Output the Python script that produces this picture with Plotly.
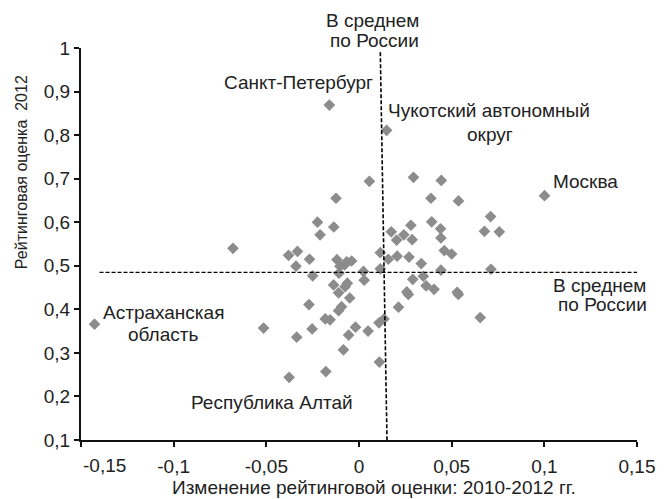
import plotly.graph_objects as go

# Change in rating 2010-2012 (x) and rating 2012 (y)
x_change = [
    -0.1427, -0.0680, -0.0515, -0.0380, -0.0332, -0.0340, -0.0336, -0.0377,
    -0.0267, -0.0250, -0.0270, -0.0253, -0.0224, -0.0210, -0.0160, -0.0124,
    -0.0136, -0.0119, -0.0103, -0.0108, -0.0137, -0.0110, -0.0182, -0.0156,
    -0.0110, -0.0094, -0.0084, -0.0066, -0.0040, -0.0078, -0.0063, -0.0075,
    -0.0050, -0.0056, -0.0019, -0.0179, 0.0024, 0.0028, 0.0056, 0.0049,
    0.0115, 0.0115, 0.0108, 0.0135, 0.0110, 0.0149, 0.0158, 0.0174,
    0.0203, 0.0206, 0.0213, 0.0242, 0.0280, 0.0287, 0.0270, 0.0294,
    0.0290, 0.0258, 0.0266, 0.0336, 0.0347, 0.0362, 0.0388, 0.0392,
    0.0405, 0.0444, 0.0440, 0.0442, 0.0460, 0.0500, 0.0442, 0.0537,
    0.0536, 0.0530, 0.0654, 0.0677, 0.0710, 0.0757, 0.0712, 0.1001,
]
y_rating = [
    0.366, 0.540, 0.357, 0.524, 0.533, 0.499, 0.336, 0.244,
    0.515, 0.477, 0.411, 0.355, 0.600, 0.571, 0.869, 0.655,
    0.589, 0.514, 0.499, 0.483, 0.456, 0.438, 0.378, 0.376,
    0.397, 0.406, 0.307, 0.509, 0.511, 0.502, 0.460, 0.452,
    0.426, 0.341, 0.359, 0.257, 0.487, 0.467, 0.694, 0.350,
    0.530, 0.493, 0.369, 0.378, 0.279, 0.811, 0.515, 0.578,
    0.559, 0.522, 0.405, 0.571, 0.593, 0.560, 0.520, 0.703,
    0.469, 0.440, 0.434, 0.505, 0.476, 0.454, 0.655, 0.601,
    0.446, 0.696, 0.585, 0.564, 0.535, 0.527, 0.490, 0.649,
    0.434, 0.439, 0.381, 0.579, 0.613, 0.578, 0.492, 0.661,
]

# Russian averages (reference lines)
avg_x_line = [0.0115, 0.0151]
avg_x_line_y = [0.99, 0.1]
avg_y_line_x = [-0.14, 0.15]
avg_y = [0.4847, 0.4847]

x_ticks = [-0.15, -0.1, -0.05, 0, 0.05, 0.1, 0.15]
x_ticktext = ["", "-0,1", "-0,05", "0", "0,05", "0,1", "0,15"]
y_ticks = [0.1, 0.2, 0.3, 0.4, 0.5, 0.6, 0.7, 0.8, 0.9, 1.0]
y_ticktext = ["0,1", "0,2", "0,3", "0,4", "0,5", "0,6", "0,7", "0,8", "0,9", "1"]

# label lines placed in data coordinates (inside the plot)
data_labels = [
    ("Санкт-Петербург", -0.0328, 0.921),
    ("Чукотский автономный", 0.0700, 0.857),
    ("округ", 0.0706, 0.802),
    ("Москва", 0.1221, 0.694),
    ("Астраханская", -0.1056, 0.3932),
    ("область", -0.1056, 0.3432),
    ("Республика Алтай", -0.0468, 0.185),
]
# label lines placed in paper coordinates (outside the axis ranges), right-aligned
paper_labels = [
    ("В среднем", 0.6115, 1.0689),
    ("по России", 0.6115, 1.0204),
    ("В среднем", 1.0198, 0.3929),
    ("по России", 1.0216, 0.3469),
]

FONT = "Liberation Sans, Arial, sans-serif"
FS = 19
TXT = "#222222"

fig = go.Figure()
fig.add_trace(go.Scatter(
    x=x_change, y=y_rating, mode="markers",
    marker=dict(symbol="diamond", size=9, color="#8c8c8c", line=dict(width=0)),
    showlegend=False, hoverinfo="skip", cliponaxis=False,
))
fig.add_trace(go.Scatter(
    x=avg_x_line, y=avg_x_line_y, mode="lines",
    line=dict(color="black", width=1.6, dash="4px,2px"), showlegend=False,
    hoverinfo="skip",
))
fig.add_trace(go.Scatter(
    x=avg_y_line_x, y=avg_y, mode="lines",
    line=dict(color="black", width=1.3, dash="4px,2px"), showlegend=False,
    hoverinfo="skip",
))

annotations = []
for text, ax, ay in data_labels:
    annotations.append(dict(
        text=text, x=ax, y=ay, xref="x", yref="y", showarrow=False,
        xanchor="center", yanchor="middle", align="center",
        font=dict(family=FONT, size=FS, color=TXT),
    ))
for text, ax, ay in paper_labels:
    annotations.append(dict(
        text=text, x=ax, y=ay, xref="paper", yref="paper", showarrow=False,
        xanchor="right", yanchor="middle", align="right",
        font=dict(family=FONT, size=FS, color=TXT),
    ))
# first x tick label (left-aligned at its tick)
annotations.append(dict(
    text="-0,15", x=0.0, y=-0.066, xref="paper", yref="paper", showarrow=False,
    xanchor="left", yanchor="middle", font=dict(family=FONT, size=FS, color=TXT),
))
# axis titles
annotations.append(dict(
    text="Изменение рейтинговой оценки: 2010-2012 гг.", x=0.527, y=-0.1224,
    xref="paper", yref="paper", showarrow=False, xanchor="center", yanchor="middle",
    font=dict(family=FONT, size=FS, color=TXT),
))
annotations.append(dict(
    text="Рейтинговая оценка  2012", x=-0.1056, y=0.684, textangle=-90,
    xref="paper", yref="paper", showarrow=False, xanchor="center", yanchor="middle",
    font=dict(family=FONT, size=16, color=TXT),
))

fig.update_layout(
    width=667, height=499,
    margin=dict(l=81, r=30, t=48, b=59),
    paper_bgcolor="white", plot_bgcolor="white",
    font=dict(family=FONT, size=FS, color=TXT),
    annotations=annotations,
    hovermode=False,
    xaxis=dict(
        range=[-0.15, 0.15], tickvals=x_ticks, ticktext=x_ticktext,
        showgrid=False, zeroline=False, showline=True, linecolor="#111111", linewidth=2,
        ticks="outside", ticklen=5, tickwidth=1.5, tickcolor="#111111",
        ticklabelstandoff=3,
        tickfont=dict(family=FONT, size=FS, color=TXT),
    ),
    yaxis=dict(
        range=[0.1, 1.0], tickvals=y_ticks, ticktext=y_ticktext,
        showgrid=False, zeroline=False, showline=True, linecolor="#111111", linewidth=2,
        ticks="outside", ticklen=5, tickwidth=1.5, tickcolor="#111111",
        tickfont=dict(family=FONT, size=FS, color=TXT),
    ),
)

fig.write_html("out.html", config={"displayModeBar": False},
               post_script="document.body.style.margin='0';")
